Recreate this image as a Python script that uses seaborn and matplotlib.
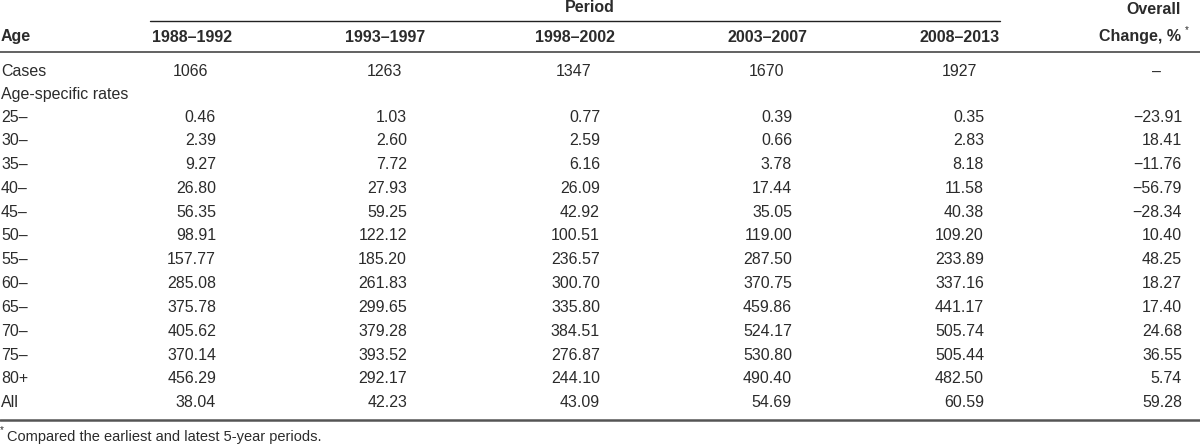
import matplotlib
matplotlib.use("Agg")
import matplotlib.pyplot as plt
import seaborn as sns

# table contents
periods = ["1988–1992", "1993–1997", "1998–2002", "2003–2007", "2008–2013"]
cases = ["1066", "1263", "1347", "1670", "1927"]
age_groups = ["25–", "30–", "35–", "40–", "45–", "50–", "55–", "60–",
              "65–", "70–", "75–", "80+", "All"]
rates_1988 = [0.46, 2.39, 9.27, 26.80, 56.35, 98.91, 157.77, 285.08,
              375.78, 405.62, 370.14, 456.29, 38.04]
rates_1993 = [1.03, 2.60, 7.72, 27.93, 59.25, 122.12, 185.20, 261.83,
              299.65, 379.28, 393.52, 292.17, 42.23]
rates_1998 = [0.77, 2.59, 6.16, 26.09, 42.92, 100.51, 236.57, 300.70,
              335.80, 384.51, 276.87, 244.10, 43.09]
rates_2003 = [0.39, 0.66, 3.78, 17.44, 35.05, 119.00, 287.50, 370.75,
              459.86, 524.17, 530.80, 490.40, 54.69]
rates_2008 = [0.35, 2.83, 8.18, 11.58, 40.38, 109.20, 233.89, 337.16,
              441.17, 505.74, 505.44, 482.50, 60.59]
overall_change = [-23.91, 18.41, -11.76, -56.79, -28.34, 10.40, 48.25,
                  18.27, 17.40, 24.68, 36.55, 5.74, 59.28]
footnote = "Compared the earliest and latest 5-year periods."

sns.set_theme(style="white")
plt.rcParams["font.family"] = ["Liberation Sans", "DejaVu Sans"]

fig = plt.figure(figsize=(12, 4.48), dpi=100)
ax = fig.add_axes([0, 0, 1, 1])
ax.set_xlim(0, 1200)
ax.set_ylim(448, 0)
ax.axis("off")

txt = "#2b2b2b"
fs = 11.5

# column layout (pixels)
head_right = [232, 425, 615, 808, 1000]
num_right = [216, 407, 600, 792, 984]
over_right = 1182

# header
ax.text(590, 8, "Period", ha="center", va="center", fontsize=fs,
        fontweight="bold", color=txt)
ax.plot([150, 1000], [21.5, 21.5], color="#222222", lw=1.0)
ax.text(1, 37, "Age", ha="left", va="center", fontsize=fs,
        fontweight="bold", color=txt)
for p, xr in zip(periods, head_right):
    ax.text(xr, 37, p, ha="right", va="center", fontsize=fs,
            fontweight="bold", color=txt)
ax.text(1181, 10, "Overall", ha="right", va="center", fontsize=fs,
        fontweight="bold", color=txt)
ax.text(1181, 37, "Change, %", ha="right", va="center", fontsize=fs,
        fontweight="bold", color=txt)
ax.text(1185, 30, "*", ha="left", va="center", fontsize=7, color=txt)
ax.plot([0, 1200], [52.5, 52.5], color="#555555", lw=1.3)

# cases row
for c, xr in zip(cases, head_right):
    ax.text(xr - 41, 72, c, ha="center", va="center", fontsize=fs, color=txt)
ax.text(1157, 72, "–", ha="center", va="center", fontsize=fs, color=txt)
ax.text(1, 72, "Cases", ha="left", va="center", fontsize=fs, color=txt)
ax.text(1, 94.5, "Age-specific rates", ha="left", va="center",
        fontsize=fs, color=txt)

# rate rows
series = [rates_1988, rates_1993, rates_1998, rates_2003, rates_2008]
y0, dy = 117, 23.8
for i, age in enumerate(age_groups):
    y = y0 + i * dy
    ax.text(1, y, age, ha="left", va="center", fontsize=fs, color=txt)
    for s, xr in zip(series, num_right):
        ax.text(xr, y, f"{s[i]:.2f}", ha="right", va="center",
                fontsize=fs, color=txt)
    v = overall_change[i]
    label = f"{v:.2f}".replace("-", "\u2212")
    ax.text(over_right, y, label, ha="right", va="center", fontsize=fs,
            color=txt)

ax.plot([0, 1200], [420, 420], color="#555555", lw=1.8)

# footnote
ax.text(0, 430, "*", ha="left", va="center", fontsize=7, color=txt)
ax.text(7, 437, footnote, ha="left", va="center", fontsize=10.5, color=txt)

fig.savefig("out.png", dpi=100)
